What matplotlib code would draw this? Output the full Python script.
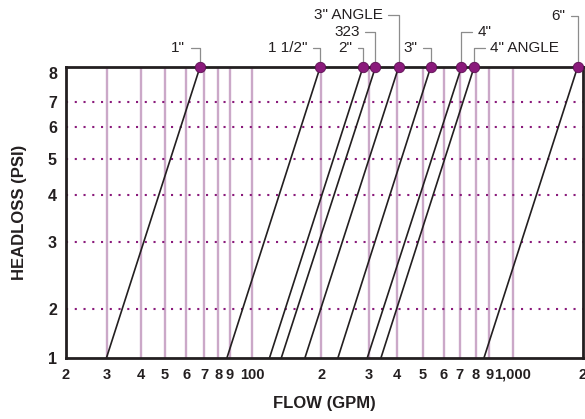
# Headloss vs flow chart for valve sizes

import numpy as np
import matplotlib.pyplot as plt

plt.rcParams['font.family'] = ['Liberation Sans', 'DejaVu Sans']

# data
sizes = ['1"', '1 1/2"', '2"', '323', '3" ANGLE', '3"', '4"', '4" ANGLE', '6"']
flow_1psi = [30, 87.5, 119, 134, 170, 231, 297, 341, 861]
flow_8psi = [67.5, 198, 286, 322, 407, 536, 710, 789, 1897]

psi_ticks = [1, 2, 3, 4, 5, 6, 7, 8]
gpm_ticks = [20, 30, 40, 50, 60, 70, 80, 90, 100, 200, 300, 400, 500, 600, 700, 800, 900, 1000, 2000]
gpm_labels = ['2', '3', '4', '5', '6', '7', '8', '9', '100', '2', '3', '4', '5', '6', '7', '8', '9', '1,000', '2']

# the printed grid is not a true log grid, so calibrate the scales on it
x_grid = [67, 107.5, 141.5, 165.5, 187, 205, 219, 230.5, 253, 321.7, 369, 397, 423, 444, 460, 476, 489.3, 512.7, 583]
y_grid = [357.5, 309, 242.3, 195, 159, 127.3, 102.5, 67]

lg_ticks = np.log10(gpm_ticks)
y_cal = 419 - np.array(y_grid)


def x_fwd(v):
    return np.interp(np.log10(np.clip(v, 1e-6, None)), lg_ticks, x_grid)


def x_inv(v):
    return 10 ** np.interp(v, x_grid, lg_ticks)


def y_fwd(v):
    return np.interp(v, psi_ticks, y_cal)


def y_inv(v):
    return np.interp(v, y_cal, psi_ticks)


# label placement: (dx px, dy px) from the marker, text side
label_pos = [(-15, 19, 'r'), (-13, 19, 'r'), (-11, 19, 'r'), (-16, 35, 'r'), (-16, 52, 'r'),
             (-13, 19, 'r'), (16, 35, 'l'), (16, 19, 'l'), (-12, 51, 'r')]

dark = '#231f20'
purple = '#8a1a7b'
mauve = '#cba8c8'

fig = plt.figure(figsize=(5.85, 4.19), dpi=100)
ax = fig.add_axes([66 / 585, 1 - 357.5 / 419, (583 - 66) / 585, (357.5 - 67) / 419])
ax.set_xscale('function', functions=(x_fwd, x_inv))
ax.set_yscale('function', functions=(y_fwd, y_inv))
ax.set_xlim(20, 2000)
ax.set_ylim(1, 8)

ax.vlines(gpm_ticks[1:-1], 1, 8, color=mauve, lw=1.7, zorder=1)
ax.hlines(psi_ticks[1:-1], 20, 2000, color=purple, lw=1.5, linestyles=(0, (1, 3.2)), zorder=1)

for i in range(len(sizes)):
    ax.plot([flow_1psi[i], flow_8psi[i]], [1, 8], color=dark, lw=1.2, zorder=3)
    ax.plot(flow_8psi[i], 8, 'o', ms=7.5, mfc=purple, mec='#5c1052', mew=0.6,
            clip_on=False, zorder=6)
    dx, dy, side = label_pos[i]
    ha = 'right' if side == 'r' else 'left'
    rel = (1, 0.5) if side == 'r' else (0, 0.5)
    ax.annotate(sizes[i], xy=(flow_8psi[i], 8), xytext=(dx * 0.72, dy * 0.72),
                textcoords='offset points', ha=ha, va='center', fontsize=11, color=dark,
                annotation_clip=False,
                arrowprops=dict(arrowstyle='-', color='#8c8c8c', lw=0.9, relpos=rel,
                                shrinkA=2, shrinkB=0,
                                connectionstyle='angle,angleA=0,angleB=90,rad=0'))

for s in ax.spines.values():
    s.set_color(dark)
    s.set_linewidth(2)
ax.set_zorder(2)

ax.set_xticks(gpm_ticks)
ax.set_xticklabels(gpm_labels)
ax.set_yticks(psi_ticks)
ax.set_yticklabels([str(p) for p in psi_ticks])
ax.minorticks_off()
ax.tick_params(axis='x', length=0, pad=7.5, labelsize=10.5, labelcolor=dark)
ax.tick_params(axis='y', length=0, pad=6.5, labelsize=11.5, labelcolor=dark)
for t in ax.get_xticklabels() + ax.get_yticklabels():
    t.set_fontweight('bold')
ax.get_yticklabels()[-1].set_va('top')

ax.set_xlabel('FLOW (GPM)', fontsize=12, fontweight='bold', color=dark, labelpad=10)
ax.set_ylabel('HEADLOSS (PSI)', fontsize=12, fontweight='bold', color=dark, labelpad=15)

plt.savefig('out.png', dpi=100)
